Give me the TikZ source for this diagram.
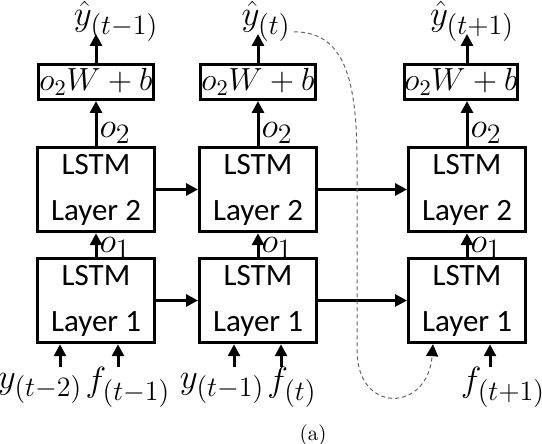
\RequirePackage{fix-cm}
\documentclass[tikz,border=0pt]{standalone}
\usepackage{fontspec}
\setsansfont{Carlito}
\DeclareMathSizes{17.5}{17.5}{14}{10}
\usepackage{tikz}
\usetikzlibrary{arrows.meta}
\usetikzlibrary{positioning}
\tikzset{
	every path/.style = {line width=1.5pt},
	>={Triangle[length=6pt,width=6pt]}
}

\begin{document}
\begin{tikzpicture}[x=0.5pt,y=-0.5pt,
	lstm/.style={draw,rectangle,minimum width=58.5pt,minimum height=35pt,align=center,font=\sffamily\fontsize{15.5}{18}\selectfont},
	outbox/.style={draw,rectangle,minimum width=57.5pt,minimum height=17.5pt,inner sep=0pt,font=\fontsize{16}{19}\selectfont},
	lbl/.style={inner sep=1pt,font=\fontsize{17.5}{20}\selectfont},
	feed/.style={dash pattern=on 2pt off 1.5pt,line width=0.5pt,draw=black!60}]
	\useasboundingbox (0,0) rectangle (542,444);
	% first layer
	\node[lstm] (l1a) at (96,300.5) {LSTM\\[5pt]Layer 1};
	\node[lstm] (l1b) [right of=l1a,node distance=81pt] {LSTM\\[5pt]Layer 1};
	\node[lstm] (l1c) [right of=l1b,node distance=104.5pt] {LSTM\\[5pt]Layer 1};
	% second layer
	\node[lstm] (l2a) [above of=l1a,node distance=55.5pt] {LSTM\\[5pt]Layer 2};
	\node[lstm] (l2b) [above of=l1b,node distance=55.5pt] {LSTM\\[5pt]Layer 2};
	\node[lstm] (l2c) [above of=l1c,node distance=55.5pt] {LSTM\\[5pt]Layer 2};
	% dense output
	\node[outbox] (oa) [above of=l2a,node distance=53.75pt] {$o_2W+b$};
	\node[outbox] (ob) [above of=l2b,node distance=53.75pt] {$o_2W+b$};
	\node[outbox,minimum width=52.5pt] (oc) [above of=l2c,node distance=53.75pt,xshift=-3pt] {$o_2W+b$};
	% predictions
	\node[lbl,anchor=base] (yha) at (116,26) {$\hat{y}_{(t-1)}$};
	\node[lbl,anchor=base] (yhb) at (266,26) {$\hat{y}_{(t)}$};
	\node[lbl,anchor=base] (yhc) at (472,26) {$\hat{y}_{(t+1)}$};
	% inputs
	\node[lbl,anchor=base] (ya) at (40,388) {$y_{(t-2)}$};
	\node[lbl,anchor=base] (fva) at (128,392) {$f_{(t-1)}$};
	\node[lbl,anchor=base] (yb) at (222,388) {$y_{(t-1)}$};
	\node[lbl,anchor=base] (fvb) at (292,392) {$f_{(t)}$};
	\node[lbl,anchor=base] (fvc) at (503,392) {$f_{(t+1)}$};
	\node[font=\fontsize{10.5}{12}\selectfont] (cap) at (313,435) {(a)};
	\coordinate (ia) at (60,367);
	\coordinate (fa) at (118,367);
	\coordinate (ib) at (234,367);
	\coordinate (fb) at (281,367);
	\coordinate (ic) at (433,367);
	\coordinate (fc) at (490,367);
	\draw[->] (ia) -- (ia |- l1a.south);
	\draw[->] (fa) -- (fa |- l1a.south);
	\draw[->] (ib) -- (ib |- l1b.south);
	\draw[->] (fb) -- (fb |- l1b.south);
	\draw[->] (fc) -- (fc |- l1c.south);
	\draw[->] (l1a) -- (l1b);
	\draw[->] (l1b) -- (l1c);
	\draw[->] (l2a) -- (l2b);
	\draw[->] (l2b) -- (l2c);
	\draw[->] (l1a) -- node[lbl,right,pos=0.36] {$o_1$} (l2a);
	\draw[->] (l1b) -- node[lbl,right,pos=0.36] {$o_1$} (l2b);
	\draw[->] (l1c) -- node[lbl,right,pos=0.36] {$o_1$} (l2c);
	\draw[->] (l2a) -- node[lbl,right,pos=0.28] {$o_2$} (oa);
	\draw[->] (l2b) -- node[lbl,right,pos=0.28] {$o_2$} (ob);
	\draw[->] (l2c.north) -- node[lbl,right,pos=0.28] {$o_2$} (l2c.north |- oc.south);
	\draw[->,shorten >=4pt] (oa) -- (oa.north |- yha.base);
	\draw[->,shorten >=4pt] (ob) -- (ob.north |- yhb.base);
	\draw[->,shorten >=4pt] (l2c.north |- oc.north) -- (l2c.north |- yhc.base);
	% prediction fed back as next input
	\draw[feed,-{Triangle[length=6pt,width=6pt,black]}] ([yshift=-5pt]yhb.east) .. controls (340,32) and (357,70) .. (357,160) -- (357,350) .. controls (357,415) and (428,412) .. (ic |- l1c.south);
\end{tikzpicture}
\end{document}
